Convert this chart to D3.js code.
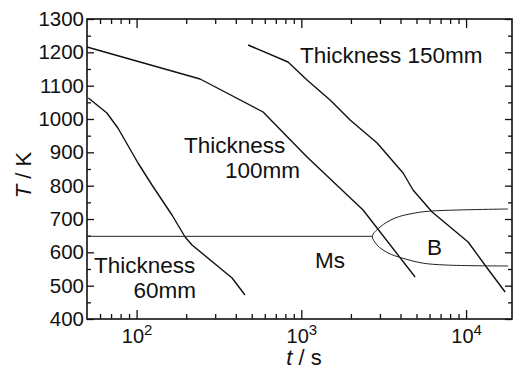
<!DOCTYPE html>
<html>
<head>
<meta charset="utf-8">
<script src="https://cdn.jsdelivr.net/npm/d3@7"></script>
<style>
  html, body { margin: 0; padding: 0; background: #fff; }
  svg { display: block; font-family: "Liberation Sans", Arial, Helvetica, sans-serif; }
</style>
</head>
<body>
<svg id="chart" width="515" height="370"></svg>
<script>
// Cooling curves (temperature vs. time) for three plate thicknesses
const t60 = [51, 66, 77, 102, 124, 164, 197, 217, 380, 455];
const T60 = [1063, 1018, 973, 868, 802, 712, 646, 622, 523, 472];

const t100 = [50, 243, 586, 1083, 2370, 4904];
const T100 = [1216, 1120, 1021, 886, 727, 526];

const t150 = [475, 830, 1083, 1494, 1977, 2884, 4146, 4766, 6220, 10290, 13420, 17260];
const T150 = [1222, 1171, 1117, 1057, 997, 928, 838, 787, 721, 631, 553, 481];

// Martensite start temperature
const tMs = [50, 2700];
const TMs = [648, 648];

// Bainite transformation region (C-curve, upper branch -> nose -> lower branch)
const tB = [18000, 6220, 4904, 3707, 3006, 2700, 2884, 3362, 4089, 5410, 7459, 18000];
const TB = [730, 724, 718, 703, 676, 648, 622, 598, 583, 568, 562, 559];

// Axis ticks
const xMajorTicks = [100, 1000, 10000];
const xMajorExp = ["2", "3", "4"];
const yTicks = [400, 500, 600, 700, 800, 900, 1000, 1100, 1200, 1300];

const svg = d3.select("#chart");
const W = 515, H = 370;
const mLeft = 87, mRight = 512, mTop = 19, mBottom = 319;

const x = d3.scaleLog().domain([50, 19000]).range([mLeft, mRight]);
const y = d3.scaleLinear().domain([400, 1300]).range([mBottom, mTop]);

svg.append("rect").attr("width", W).attr("height", H).attr("fill", "#fff");

// minor log ticks (2..9 x 10^n inside the domain)
const xMinorTicks = [];
for (let e = 1; e <= 4; e++) {
  for (let m = 2; m <= 9; m++) {
    const v = m * Math.pow(10, e);
    if (v > 50 && v < 19000) xMinorTicks.push(v);
  }
}
const yMinorTicks = [];
for (let v = 450; v < 1300; v += 100) yMinorTicks.push(v);

const axisStyle = g => {
  g.select(".domain").remove();
  g.selectAll(".tick line").attr("stroke", "#111").attr("stroke-width", 1.3);
};

// bottom axis
svg.append("g").attr("transform", `translate(0,${mBottom})`)
  .call(d3.axisBottom(x).tickValues(xMinorTicks).tickSize(-5).tickFormat(""))
  .call(axisStyle);
const bx = svg.append("g").attr("transform", `translate(0,${mBottom})`)
  .call(d3.axisBottom(x).tickValues(xMajorTicks).tickSize(-9).tickPadding(0).tickFormat(""))
  .call(axisStyle);
bx.selectAll(".tick").each(function(d, i) {
  const txt = d3.select(this).append("text")
    .attr("y", 24).attr("text-anchor", "middle")
    .attr("fill", "#111").attr("font-size", 20);
  txt.append("tspan").text("10");
  txt.append("tspan").attr("dy", -8).attr("font-size", 15).text(xMajorExp[i]);
});

// top axis
svg.append("g").attr("transform", `translate(0,${mTop})`)
  .call(d3.axisTop(x).tickValues(xMinorTicks).tickSize(-5).tickFormat(""))
  .call(axisStyle);
svg.append("g").attr("transform", `translate(0,${mTop})`)
  .call(d3.axisTop(x).tickValues(xMajorTicks).tickSize(-9).tickFormat(""))
  .call(axisStyle);

// left axis
svg.append("g").attr("transform", `translate(${mLeft},0)`)
  .call(d3.axisLeft(y).tickValues(yMinorTicks).tickSize(-4).tickFormat(""))
  .call(axisStyle);
const ly = svg.append("g").attr("transform", `translate(${mLeft},0)`)
  .call(d3.axisLeft(y).tickValues(yTicks).tickSize(-7).tickPadding(5).tickFormat(d3.format("d")))
  .call(axisStyle);
ly.selectAll(".tick text")
  .attr("x", -3)
  .attr("font-size", 20.5).attr("fill", "#111")
  .attr("font-family", "'Liberation Sans', Arial, sans-serif");

// right axis
svg.append("g").attr("transform", `translate(${mRight},0)`)
  .call(d3.axisRight(y).tickValues(yMinorTicks).tickSize(-4).tickFormat(""))
  .call(axisStyle);
svg.append("g").attr("transform", `translate(${mRight},0)`)
  .call(d3.axisRight(y).tickValues(yTicks).tickSize(-7).tickFormat(""))
  .call(axisStyle);

// frame
svg.append("rect")
  .attr("x", mLeft).attr("y", mTop)
  .attr("width", mRight - mLeft).attr("height", mBottom - mTop)
  .attr("fill", "none").attr("stroke", "#111").attr("stroke-width", 1.6);

// curves
const line = d3.line().x(d => x(d[0])).y(d => y(d[1]));
const zip = (a, b) => a.map((v, i) => [v, b[i]]);

const curves = [
  { t: t60, T: T60 },
  { t: t100, T: T100 },
  { t: t150, T: T150 }
];
svg.append("g").selectAll("path").data(curves).join("path")
  .attr("d", c => line(zip(c.t, c.T)))
  .attr("fill", "none").attr("stroke", "#111").attr("stroke-width", 1.4)
  .attr("stroke-linejoin", "round");

svg.append("path")
  .attr("d", line(zip(tMs, TMs)))
  .attr("fill", "none").attr("stroke", "#222").attr("stroke-width", 1);

svg.append("path")
  .attr("d", d3.line().x(d => x(d[0])).y(d => y(d[1])).curve(d3.curveCatmullRom.alpha(0.5))(zip(tB, TB)))
  .attr("fill", "none").attr("stroke", "#222").attr("stroke-width", 1);

// annotations
const labels = [
  { text: "Thickness 150mm", x: 300, y: 63, anchor: "start" },
  { text: "Thickness", x: 184, y: 153, anchor: "start" },
  { text: "100mm", x: 300, y: 178, anchor: "end" },
  { text: "Thickness", x: 94, y: 273, anchor: "start" },
  { text: "60mm", x: 196, y: 298, anchor: "end" },
  { text: "Ms", x: 315, y: 268, anchor: "start" },
  { text: "B", x: 427, y: 255, anchor: "start" }
];
svg.append("g").selectAll("text").data(labels).join("text")
  .attr("x", d => d.x).attr("y", d => d.y)
  .attr("text-anchor", d => d.anchor)
  .attr("font-size", 22.5).attr("fill", "#111")
  .text(d => d.text);

// axis titles
const xt = svg.append("text").attr("x", 304).attr("y", 365)
  .attr("text-anchor", "middle").attr("font-size", 22).attr("fill", "#111");
xt.append("tspan").attr("font-style", "italic").text("t");
xt.append("tspan").text(" / s");

const yt = svg.append("text")
  .attr("transform", "translate(31,175) rotate(-90)")
  .attr("text-anchor", "middle").attr("font-size", 22).attr("fill", "#111");
yt.append("tspan").attr("font-style", "italic").text("T");
yt.append("tspan").text(" / K");
</script>
</body>
</html>
